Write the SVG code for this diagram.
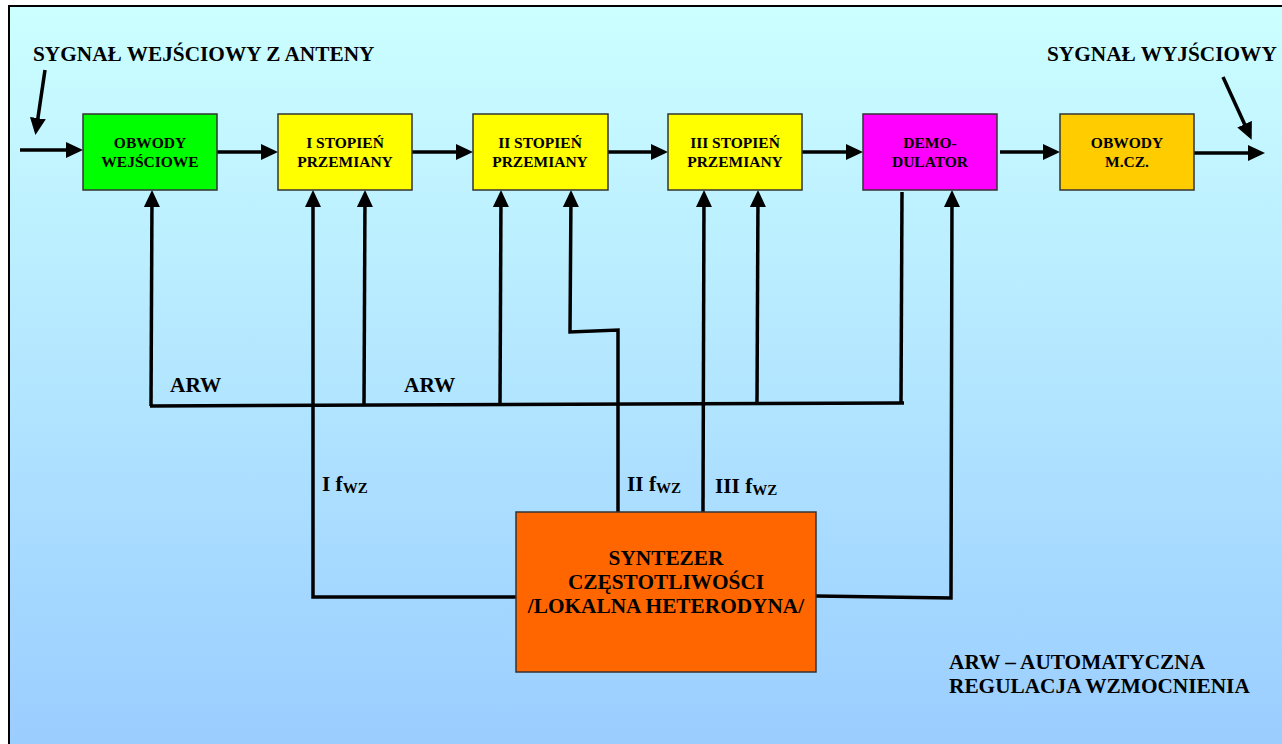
<svg xmlns="http://www.w3.org/2000/svg" width="1282" height="744" viewBox="0 0 1282 744">
<defs>
<linearGradient id="bg" x1="0" y1="0" x2="0" y2="1">
<stop offset="0" stop-color="#CCFFFF"/>
<stop offset="1" stop-color="#99CCFF"/>
</linearGradient>
<marker id="ah" markerUnits="userSpaceOnUse" markerWidth="17" markerHeight="16" refX="13" refY="8" orient="auto" viewBox="0 0 17 16">
<path d="M0,0 L17,8 L0,16 z" fill="#000"/>
</marker>
<style>
.t{font-family:"Liberation Serif","Times New Roman",serif;font-weight:bold;fill:#000}
.bt{font-size:15.5px;text-anchor:middle}
.big{font-size:21.3px}
.sub{font-size:15px}
.box{stroke:#333;stroke-width:1.5}
.ln{fill:none;stroke:#000;stroke-width:3.5;stroke-linejoin:miter}
.ar{marker-end:url(#ah)}
</style>
</defs>
<rect x="0" y="0" width="1282" height="744" fill="#fff"/>
<rect x="9" y="6" width="1290" height="760" fill="url(#bg)" stroke="#000" stroke-width="2"/>

<text class="t big" x="33" y="61">SYGNAŁ WEJŚCIOWY Z ANTENY</text>
<text class="t big" x="1047" y="61">SYGNAŁ WYJŚCIOWY</text>

<g id="connectors">
<line class="ln ar" x1="45" y1="70" x2="36" y2="131"/>
<line class="ln ar" x1="1223" y1="77" x2="1250" y2="136"/>
<line class="ln ar" x1="20" y1="150" x2="79" y2="150"/>
<line class="ln ar" x1="217" y1="152" x2="274" y2="152"/>
<line class="ln ar" x1="412" y1="152" x2="469" y2="152"/>
<line class="ln ar" x1="608" y1="152" x2="664" y2="152"/>
<line class="ln ar" x1="802" y1="152" x2="859" y2="152"/>
<line class="ln ar" x1="1000" y1="152" x2="1056" y2="152"/>
<line class="ln ar" x1="1194" y1="153" x2="1261" y2="153"/>
<line class="ln" x1="150" y1="406" x2="904" y2="403"/>
<line class="ln ar" x1="151" y1="406" x2="152" y2="194"/>
<path class="ln ar" d="M516,597 L313,597 L313,194"/>
<line class="ln ar" x1="364" y1="405" x2="365" y2="194"/>
<line class="ln ar" x1="500" y1="405" x2="501" y2="194"/>
<path class="ln ar" d="M618,512 L618,330 L570,332 L571,194"/>
<line class="ln ar" x1="703" y1="512" x2="704" y2="194"/>
<line class="ln ar" x1="757" y1="404" x2="758" y2="194"/>
<line class="ln" x1="902" y1="192" x2="901" y2="404"/>
<path class="ln ar" d="M816,596 L951,598 L952,194"/>
</g>

<text class="t big" x="170" y="392">ARW</text>
<text class="t big" x="404" y="392">ARW</text>
<text class="t big" x="322" y="491">I f<tspan class="sub" dy="2">WZ</tspan></text>
<text class="t big" x="627" y="491">II f<tspan class="sub" dy="2">WZ</tspan></text>
<text class="t big" x="715" y="493">III f<tspan class="sub" dy="2">WZ</tspan></text>

<g id="obwody-wej">
<rect class="box" x="83" y="114" width="134" height="76" fill="#00FF00"/>
<text class="t bt" x="150" y="148">OBWODY</text>
<text class="t bt" x="150" y="167">WEJŚCIOWE</text>
</g>
<g id="stopien1">
<rect class="box" x="278" y="114" width="134" height="76" fill="#FFFF00"/>
<text class="t bt" x="345" y="148">I STOPIEŃ</text>
<text class="t bt" x="345" y="167">PRZEMIANY</text>
</g>
<g id="stopien2">
<rect class="box" x="473" y="114" width="135" height="76" fill="#FFFF00"/>
<text class="t bt" x="540" y="148">II STOPIEŃ</text>
<text class="t bt" x="540" y="167">PRZEMIANY</text>
</g>
<g id="stopien3">
<rect class="box" x="668" y="114" width="134" height="76" fill="#FFFF00"/>
<text class="t bt" x="735" y="148">III STOPIEŃ</text>
<text class="t bt" x="735" y="167">PRZEMIANY</text>
</g>
<g id="demodulator">
<rect class="box" x="863" y="114" width="134" height="76" fill="#FF00FF"/>
<text class="t bt" x="930" y="148">DEMO-</text>
<text class="t bt" x="930" y="167">DULATOR</text>
</g>
<g id="obwody-mcz">
<rect class="box" x="1060" y="114" width="134" height="76" fill="#FFCC00"/>
<text class="t bt" x="1127" y="148">OBWODY</text>
<text class="t bt" x="1127" y="167">M.CZ.</text>
</g>
<g id="syntezer">
<rect class="box" x="516" y="512" width="300" height="160" fill="#FF6600"/>
<text class="t big" x="666" y="565" text-anchor="middle">SYNTEZER</text>
<text class="t big" x="666" y="589" text-anchor="middle">CZĘSTOTLIWOŚCI</text>
<text class="t big" x="666" y="613" text-anchor="middle">/LOKALNA HETERODYNA/</text>
</g>

<text class="t big" x="949" y="669">ARW – AUTOMATYCZNA</text>
<text class="t big" x="949" y="693">REGULACJA WZMOCNIENIA</text>
</svg>
